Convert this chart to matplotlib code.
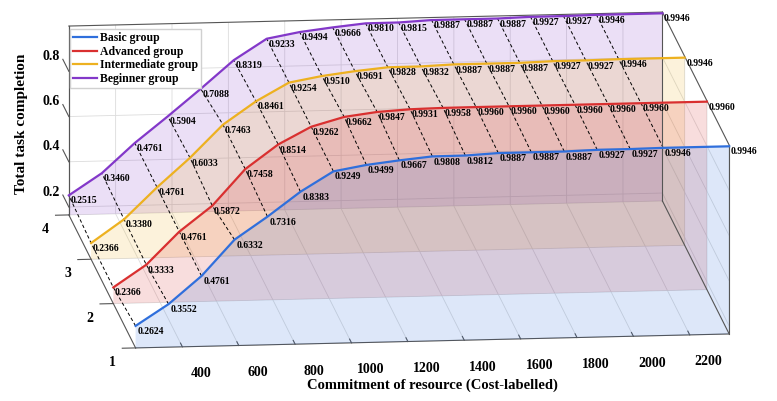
import numpy as np
import matplotlib
matplotlib.use('Agg')
import matplotlib.pyplot as plt
from mpl_toolkits.mplot3d import proj3d
from mpl_toolkits.mplot3d.art3d import Poly3DCollection

# data
cost = [234, 351, 468, 585, 702, 819, 936, 1053, 1170, 1287, 1404, 1521,
        1638, 1755, 1872, 1989, 2106, 2340]
groups = [1, 2, 3, 4]
names = ['Basic group', 'Advanced group', 'Intermediate group', 'Beginner group']

basic = [0.2624, 0.3552, 0.4761, 0.6332, 0.7316, 0.8383, 0.9249, 0.9499, 0.9667,
         0.9808, 0.9812, 0.9887, 0.9887, 0.9887, 0.9927, 0.9927, 0.9946, 0.9946]
advanced = [0.2366, 0.3333, 0.4761, 0.5872, 0.7458, 0.8514, 0.9262, 0.9662, 0.9847,
            0.9931, 0.9958, 0.9960, 0.9960, 0.9960, 0.9960, 0.9960, 0.9960, 0.9960]
intermediate = [0.2366, 0.3380, 0.4761, 0.6033, 0.7463, 0.8461, 0.9254, 0.9510, 0.9691,
                0.9828, 0.9832, 0.9887, 0.9887, 0.9887, 0.9927, 0.9927, 0.9946, 0.9946]
beginner = [0.2515, 0.3460, 0.4761, 0.5904, 0.7088, 0.8319, 0.9233, 0.9494, 0.9666,
            0.9810, 0.9815, 0.9887, 0.9887, 0.9887, 0.9927, 0.9927, 0.9946, 0.9946]

xticks = [400, 600, 800, 1000, 1200, 1400, 1600, 1800, 2000, 2200]
zticks = [0.2, 0.4, 0.6, 0.8]

series = [basic, advanced, intermediate, beginner]
colors = ['#2f6fdc', '#d93030', '#edb120', '#8338c9']

zmin, zmax = 0.165, 1.0

plt.rcParams['font.family'] = ['Liberation Serif', 'DejaVu Serif']
plt.rcParams['font.weight'] = 'bold'
plt.rcParams['grid.color'] = '#dcdcdc'
plt.rcParams['grid.linewidth'] = 0.6

W, H = 777, 401
fig = plt.figure(figsize=(W / 100, H / 100), dpi=100)
ax = fig.add_axes([0, -0.47, 1, W / H], projection='3d', computed_zorder=False)
ax.set_proj_type('ortho')
ax.view_init(elev=12.5, azim=-96.2)
aspect = (597.5, 618.5, 193.6)
ax.set_box_aspect(aspect)

# filled planes, back to front
for g, vals, c in reversed(list(zip(groups, series, colors))):
    verts = [(x, g, z) for x, z in zip(cost, vals)]
    verts += [(cost[-1], g, zmin), (cost[0], g, zmin)]
    poly = Poly3DCollection([verts], facecolor=c, alpha=0.16, edgecolor='none')
    ax.add_collection3d(poly)

# dashed links between groups at same cost
for i in range(len(cost) - 1):
    ax.plot([cost[i]] * 4, groups, [s[i] for s in series], color='k',
            ls=(0, (3.5, 2.5)), lw=0.7, zorder=2)

# box edges
edge = dict(color='#555555', lw=0.8, zorder=2)
ax.plot([cost[0], cost[-1]], [4, 4], [zmax, zmax], **edge)
ax.plot([cost[-1], cost[-1]], [1, 4], [zmax, zmax], **edge)
ax.plot([cost[-1], cost[-1]], [1, 1], [zmin, zmax], **edge)
ax.plot([cost[-1], cost[-1]], [4, 4], [zmin, zmax], **edge)
ax.plot([cost[-1], cost[-1]], [1, 4], [zmin, zmin], **edge)
ax.plot([cost[0], cost[0]], [4, 4], [zmin, zmax], **edge)

# z ticks point back along the group axis, like the original
for t in zticks:
    ax.plot([cost[0], cost[0]], [4, 4.27], [t, t], **edge)

for g, vals, c, n in zip(groups, series, colors, names):
    ax.plot(cost, [g] * len(cost), vals, color=c, lw=1.6, label=n, zorder=3)

ax.set_xlim(cost[0], cost[-1])
ax.set_ylim(1, 4)
ax.set_zlim(zmin, zmax)
ax.set_xticks(xticks)
ax.set_yticks(groups)
ax.set_zticks(zticks)
ax.set_xticklabels([])
ax.set_zticklabels([])
ax.tick_params(labelsize=10)

for axis in (ax.xaxis, ax.yaxis, ax.zaxis):
    axis.set_pane_color((1, 1, 1, 0))
    axis.pane.set_edgecolor('none')
    axis.line.set_color('#555555')
    axis.line.set_linewidth(0.8)
    axis._axinfo['tick']['inward_factor'] = 0.0
    axis._axinfo['tick']['outward_factor'] = 0.35
# flip the y ticks so they sit outside the box, hide the built-in z ticks
ax.yaxis._axinfo['tick']['outward_factor'] = -0.28
ax.zaxis._axinfo['tick']['outward_factor'] = 0.0
ax.tick_params(color='#555555', labelcolor='black')

ax.legend(loc='upper left', bbox_to_anchor=(70 / W, 1 - 29 / H),
          bbox_transform=fig.transFigure, borderaxespad=0, fancybox=False,
          edgecolor='#d0d0d0', framealpha=1, handlelength=2.0,
          handletextpad=0.3, labelspacing=0.15, borderpad=0.25,
          prop={'weight': 'bold', 'size': 8.5})

fig.text(22 / W, 1 - 124 / H, 'Total task completion', rotation=90,
         ha='center', va='center', fontsize=11, fontweight='bold')
fig.text(432 / W, 1 - 385 / H, 'Commitment of resource (Cost-labelled)',
         ha='center', va='center', fontsize=10.5, fontweight='bold')


# fit the projected box onto the target pixel corners
def to_px(x, y, z):
    px, py, _ = proj3d.proj_transform(x, y, z, ax.get_proj())
    return ax.transData.transform((px, py))


a_t = np.array([135.0, H - 347.0])
b_t = np.array([663.0, H - 13.0])
fig.canvas.draw()
a_p = to_px(cost[0], 1, zmin)
b_p = to_px(cost[-1], 4, zmax)
k = np.linalg.norm(b_t - a_t) / np.linalg.norm(b_p - a_p)
ax.set_box_aspect(aspect, zoom=k)
fig.canvas.draw()
a_p = to_px(cost[0], 1, zmin)
b_p = to_px(cost[-1], 4, zmax)
shift = (a_t + b_t) / 2 - (a_p + b_p) / 2
pos = ax.get_position(original=True)
ax.set_position([pos.x0 + shift[0] / W, pos.y0 + shift[1] / H, pos.width, pos.height])

M = ax.get_proj()

# tick labels for cost and completion
for t in xticks:
    px, py, _ = proj3d.proj_transform(t, 1, zmin, M)
    ax.annotate(str(t), (px, py), xytext=(19, -27), textcoords='offset pixels',
                ha='center', va='center', fontsize=10, fontweight='bold',
                color='black')
for t in zticks:
    px, py, _ = proj3d.proj_transform(cost[0], 4, t, M)
    ax.annotate('%.1f' % t, (px, py), xytext=(-9, 15), textcoords='offset pixels',
                ha='right', va='center', fontsize=10, fontweight='bold',
                color='black')

# value labels, placed at the projected point positions
for g, vals in zip(groups, series):
    for x, z in zip(cost, vals):
        px, py, _ = proj3d.proj_transform(x, g, z, M)
        ax.annotate('%.4f' % z, (px, py), xytext=(1.2, -0.8),
                    textcoords='offset points', ha='left', va='top',
                    fontsize=7, fontweight='bold', zorder=4)

fig.savefig('out.png', dpi=100)
